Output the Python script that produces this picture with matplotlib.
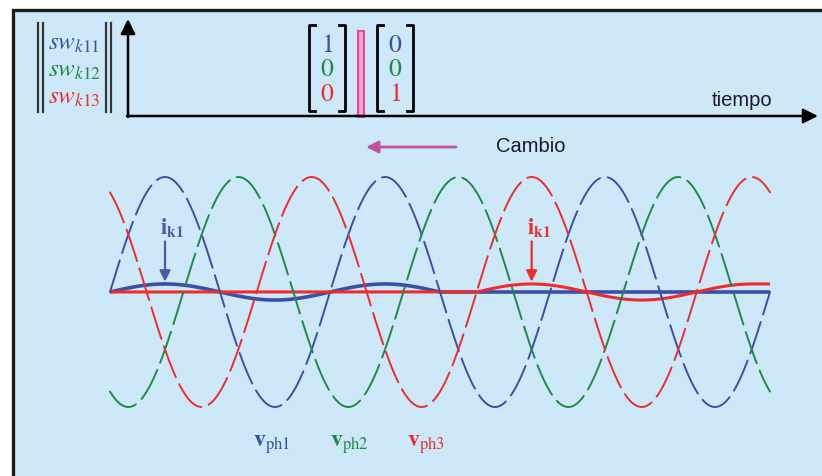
import matplotlib.pyplot as plt
import numpy as np
from matplotlib.patches import Rectangle

plt.rcParams["mathtext.fontset"] = "stix"
plt.rcParams["font.family"] = ["Liberation Sans", "DejaVu Sans"]

W, H = 822, 477

# three-phase voltages, angles in electrical degrees
phase_names = ["ph1", "ph2", "ph3"]
phase_colors = ["#3b4fa6", "#1f8a45", "#ee2c2c"]
phase_shift = [0, 120, 240]
v_amp = 1.0
theta_end = 1080

# current of leg k: carried by phase 1 first, then by phase 3
i_amp = 0.07
i1_window = (0, 540)
i3_window = (600, 1050)
label_theta = [90, 690]

# switch states before and after the change
sw_before = [1, 0, 0]
sw_after = [0, 0, 1]
sw_labels = ["k11", "k12", "k13"]

bg = "#cde9f9"
pink = "#c4529c"


def px(x, y):
    return x / W, 1 - y / H


fig = plt.figure(figsize=(W / 100, H / 100), dpi=100, facecolor="white")

# overlay axes in pixel units for the frame and the switching diagram
ax0 = fig.add_axes([0, 0, 1, 1])
ax0.set_xlim(0, W)
ax0.set_ylim(H, 0)
ax0.axis("off")
ax0.add_patch(Rectangle((13, 11), 900, 600, fc=bg, ec="#1c1c1c", lw=2.4))

# norm bars around the switch vector
for x in [38, 43, 106, 111]:
    ax0.plot([x, x], [24, 113], color="#333333", lw=1.6)
for i, name in enumerate(sw_labels):
    ax0.text(48, 43 + 27 * i, r"$sw_{k\mathrm{%s}}$" % name[1:], color=phase_colors[i],
             fontsize=18, ha="left", va="center")

# time axis
ax0.annotate("", xy=(128, 20), xytext=(128, 118),
             arrowprops=dict(arrowstyle="-|>", lw=1.8, color="black", mutation_scale=22,
                             shrinkA=0, shrinkB=0))
ax0.annotate("", xy=(818, 117), xytext=(127, 117),
             arrowprops=dict(arrowstyle="-|>", lw=1.8, color="black", mutation_scale=22,
                             shrinkA=0, shrinkB=0))
ax0.text(742, 100, "tiempo", fontsize=14.5, ha="center", va="center", color="#1a1a2a")


def bracket(x0, x1, y0, y1):
    ax0.plot([x0 + 6, x0, x0, x0 + 6], [y0, y0, y1, y1], color="black", lw=2)
    ax0.plot([x1 - 6, x1, x1, x1 - 6], [y0, y0, y1, y1], color="black", lw=2)


for x0, x1, states in [(309, 345, sw_before), (377, 413, sw_after)]:
    bracket(x0, x1, 26, 112)
    for i, s in enumerate(states):
        ax0.text((x0 + x1) / 2, 45 + 24.5 * i, r"$\mathrm{%d}$" % s, color=phase_colors[i],
                 fontsize=18.5, ha="center", va="center")

# switching instant
ax0.add_patch(Rectangle((358, 32), 6, 86, fc="#f6a6cf", ec="#e8489a", lw=1.5))
ax0.annotate("", xy=(366, 148), xytext=(456, 148),
             arrowprops=dict(arrowstyle="-|>", lw=2, color=pink, mutation_scale=18,
                             shrinkA=0, shrinkB=0))
ax0.text(531, 147, "Cambio", fontsize=14.5, ha="center", va="center", color="#1a1a2a")

# waveform axes
l, b = px(110, 408)
ax = fig.add_axes([l, b, 660 / W, 230 / H])
ax.set_xlim(0, theta_end)
ax.set_ylim(-v_amp, v_amp)
ax.axis("off")
ax.patch.set_alpha(0)

theta = np.linspace(0, theta_end, 2000)
rad = np.deg2rad(theta)

i1 = np.where((theta >= i1_window[0]) & (theta <= i1_window[1]),
              i_amp * np.sin(rad - np.deg2rad(phase_shift[0])), 0.0)
i3 = np.where((theta >= i3_window[0]) & (theta <= i3_window[1]),
              i_amp * np.sin(rad - np.deg2rad(phase_shift[2])), 0.0)
i3 = np.where(theta > i3_window[1], i_amp, i3)
ax.plot(theta, i1, color=phase_colors[0], lw=2.6, solid_capstyle="butt", clip_on=False)
ax.plot(theta, i3, color=phase_colors[2], lw=2.2, solid_capstyle="butt", clip_on=False)

for k, (name, c, sh) in enumerate(zip(phase_names, phase_colors, phase_shift)):
    v = v_amp * np.sin(rad - np.deg2rad(sh))
    ax.plot(theta, v, color=c, lw=1.4, dashes=(17, 4), dash_capstyle="round",
            clip_on=False)

# current labels with arrows
for th, c in zip(label_theta, [("#4a5aa8"), phase_colors[2]]):
    ax.annotate("", xy=(th, i_amp + 0.02), xytext=(th, 0.44),
                arrowprops=dict(arrowstyle="-|>", lw=1.6, color=c, mutation_scale=16,
                                shrinkA=0, shrinkB=0))
    ax.text(th + 12, 0.57, r"$\mathbf{i}_{\mathbf{k1}}$", color=c, fontsize=16,
            ha="center", va="center")

# voltage labels
for k, (name, c) in enumerate(zip(phase_names, phase_colors)):
    ax0.text(272 + 77 * k, 445, r"$\mathbf{v}_{\mathrm{%s}}$" % name, color=c,
             fontsize=17, ha="center", va="center")

fig.savefig("out.png", dpi=100, facecolor="white")
